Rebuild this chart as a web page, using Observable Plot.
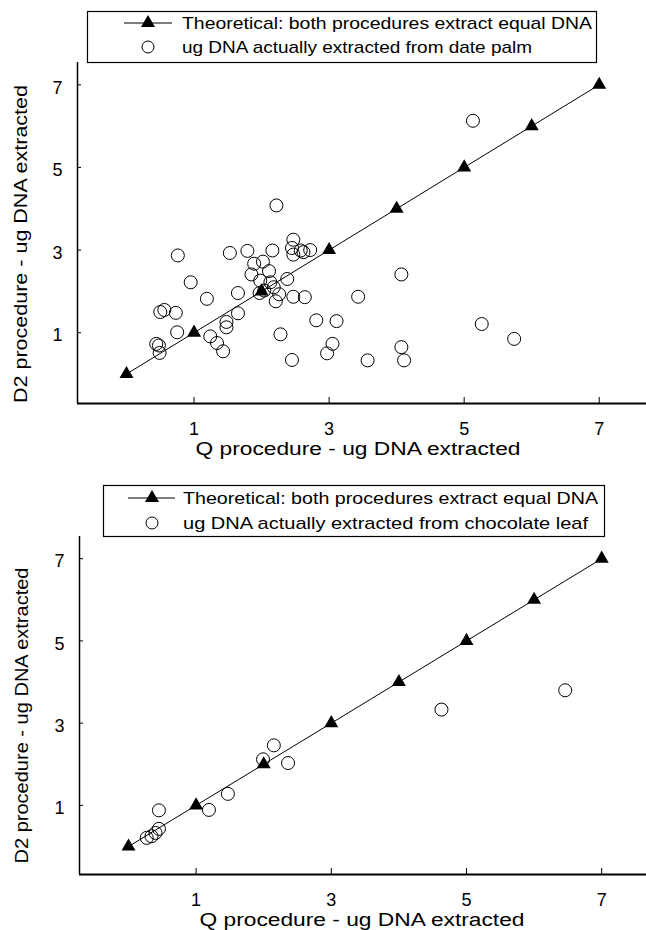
<!DOCTYPE html>
<html><head><meta charset="utf-8">
<script src="https://cdn.jsdelivr.net/npm/d3@7"></script>
<script src="https://cdn.jsdelivr.net/npm/@observablehq/plot@0.6"></script>
<style>
body{margin:0;background:#fff;}
#wrap{position:relative;width:646px;height:930px;font-family:"Liberation Sans",Arial,sans-serif;overflow:hidden;}
.panel{position:absolute;left:0;}
.panel svg{display:block;}
.legend{position:absolute;left:0;top:0;}
</style></head><body><div id="wrap"></div>
<script>
// ---- data ----
const xTicks = [1, 3, 5, 7];
const yTicks = [1, 3, 5, 7];
const theoQ  = [0, 1, 2, 3, 4, 5, 6, 7];
const theoD2 = [0, 1, 2, 3, 4, 5, 6, 7];

const palmQ  = [0.44,0.48,0.49,0.50,0.56,0.73,0.75,0.76,0.95,1.19,1.24,1.34,1.43,1.48,1.48,1.53,1.65,1.65,1.79,1.85,
                1.89,2.02,2.11,1.98,2.13,1.97,2.04,2.18,2.26,2.21,2.38,2.16,2.22,2.47,2.45,2.47,2.58,2.72,2.62,2.47,
                2.64,2.28,2.45,2.81,3.11,3.05,2.97,3.43,3.57,4.07,4.07,4.11,5.26,5.74,5.13];
const palmD2 = [0.73,0.69,0.51,1.50,1.55,1.48,1.01,2.87,2.22,1.82,0.91,0.75,0.55,1.26,1.13,2.93,1.96,1.47,2.98,2.41,
                2.67,2.72,2.49,2.26,2.22,1.96,2.02,2.10,1.93,1.76,2.30,2.99,4.08,3.25,3.05,2.89,2.99,3.00,2.95,1.87,
                1.86,0.96,0.34,1.30,1.28,0.73,0.50,1.87,0.33,2.41,0.65,0.33,1.21,0.85,6.13];

const chocQ  = [0.27,0.34,0.40,0.45,0.45,1.19,1.47,1.99,2.15,2.36,4.63,6.46];
const chocD2 = [0.21,0.25,0.33,0.43,0.88,0.89,1.28,2.12,2.46,2.03,3.33,3.80];

const xTitle = "Q procedure - ug DNA extracted";
const yTitle = "D2 procedure - ug DNA extracted";
const legendTheo = "Theoretical: both procedures extract equal DNA";
const legendPalm = "ug DNA actually extracted from date palm";
const legendChoc = "ug DNA actually extracted from chocolate leaf";

const FONT = '"Liberation Sans", Arial, Helvetica, sans-serif';
const wrap = document.getElementById("wrap");

function panel(qs, ds, cfg) {
  const theo = theoQ.map((x, i) => ({x, y: theoD2[i]}));
  const pts = qs.map((x, i) => ({x, y: ds[i]}));
  const frameH = cfg.height - cfg.mt - cfg.mb;
  const frameW = 646 - cfg.ml;
  const plot = Plot.plot({
    width: 646, height: cfg.height,
    marginLeft: cfg.ml, marginRight: 0, marginTop: cfg.mt, marginBottom: cfg.mb,
    style: {fontFamily: FONT, fontSize: "18px", background: "white", color: "#000"},
    x: {domain: cfg.xd, axis: null},
    y: {domain: cfg.yd, axis: null},
    marks: [
      Plot.axisX({ticks: xTicks, label: null, tickSize: 0, tickPadding: cfg.xpad, fontSize: 18, tickFormat: d => String(d), fill: "#000"}),
      Plot.axisY({ticks: yTicks, label: null, tickSize: 0, tickPadding: 15, fontSize: 18, dy: 3, tickFormat: d => String(d), fill: "#000"}),
      Plot.tickX(xTicks, {x: d => d, insetTop: frameH - 6, stroke: "#000", strokeWidth: 1}),
      Plot.tickY(yTicks, {y: d => d, insetRight: frameW - 4, stroke: "#000", strokeWidth: 1}),
      Plot.ruleX([cfg.xd[0]], {stroke: "#000", strokeWidth: 1.5}),
      Plot.ruleY([cfg.yd[0]], {stroke: "#000", strokeWidth: 1.8}),
      Plot.line(theo, {x: "x", y: "y", stroke: "#000", strokeWidth: 1}),
      Plot.dot(pts, {x: "x", y: "y", r: 6.5, stroke: "#000", strokeWidth: 1, fill: "none"}),
      Plot.dot(theo, {x: "x", y: "y", symbol: "triangle", r: 5.2, fill: "#000", stroke: "none"}),
      Plot.text([xTitle], {text: d => d, frameAnchor: "bottom", textAnchor: "middle", dx: cfg.xtdx, dy: cfg.xtdy, fontSize: 18, lineAnchor: "middle", fill: "#000"}),
      Plot.text([yTitle], {text: d => d, frameAnchor: "left", textAnchor: "middle", rotate: -90, dx: cfg.ytdx, dy: cfg.ytdy, fontSize: 18, lineAnchor: "middle", fill: "#000"})
    ]
  });
  d3.select(plot).selectAll("text").each(function() {
    const t = this.textContent;
    if (t === xTitle) { this.setAttribute("textLength", cfg.xtLen); this.setAttribute("lengthAdjust", "spacingAndGlyphs"); }
    if (t === yTitle) { this.setAttribute("textLength", cfg.ytLen); this.setAttribute("lengthAdjust", "spacingAndGlyphs"); }
  });
  const div = document.createElement("div");
  div.className = "panel";
  div.style.top = cfg.top + "px";
  div.appendChild(plot);

  // legend (drawn above the frame)
  const L = cfg.legend;
  const svg = d3.create("svg").attr("class", "legend").attr("width", 646).attr("height", 80)
    .style("font-family", FONT);
  svg.append("rect").attr("x", L.x0 + 0.5).attr("y", L.y0 + 0.5).attr("width", L.x1 - L.x0).attr("height", L.y1 - L.y0)
    .attr("fill", "white").attr("stroke", "#000").attr("stroke-width", 1.2);
  svg.append("line").attr("x1", L.lx0).attr("x2", L.lx1).attr("y1", L.r1).attr("y2", L.r1).attr("stroke", "#000").attr("stroke-width", 1.2);
  svg.append("path").attr("d", d3.symbol(d3.symbolTriangle, Math.PI * 5.2 * 5.2)())
    .attr("transform", `translate(${L.sx},${L.r1})`).attr("fill", "#000");
  svg.append("circle").attr("cx", L.sx).attr("cy", L.r2).attr("r", 6).attr("fill", "none").attr("stroke", "#000").attr("stroke-width", 1);
  const rows = [[L.t1, L.r1, L.len1], [L.t2, L.r2, L.len2]];
  for (const [t, y, len] of rows) {
    svg.append("text").attr("x", L.tx).attr("y", y).attr("dy", "0.35em").attr("font-size", 17)
      .attr("textLength", len).attr("lengthAdjust", "spacingAndGlyphs").text(t);
  }
  div.appendChild(svg.node());
  wrap.appendChild(div);
}

panel(palmQ, palmD2, {
  top: 0, height: 465, ml: 77, mt: 62, mb: 62,
  xd: [-0.726, 7.70], yd: [-0.714, 7.54],
  xpad: 19, xtdx: -4, xtdy: 46, xtLen: 325,
  ytdx: -56, ytdy: 11, ytLen: 318,
  legend: {x0: 87, x1: 596, y0: 11, y1: 62, r1: 23, r2: 47, lx0: 124, lx1: 172, sx: 148, tx: 182,
           t1: legendTheo, t2: legendPalm, len1: 410, len2: 350}
});

panel(chocQ, chocD2, {
  top: 465, height: 465, ml: 79, mt: 71, mb: 56,
  xd: [-0.725, 7.663], yd: [-0.681, 7.54],
  xpad: 19, xtdx: -1, xtdy: 46, xtLen: 325,
  ytdx: -57, ytdy: 10, ytLen: 296,
  legend: {x0: 103, x1: 604, y0: 20, y1: 71, r1: 33, r2: 58, lx0: 128, lx1: 175, sx: 152, tx: 183,
           t1: legendTheo, t2: legendChoc, len1: 415, len2: 405}
});
</script></body></html>
